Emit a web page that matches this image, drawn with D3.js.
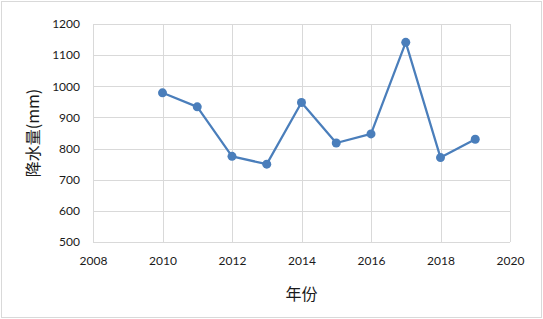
<!DOCTYPE html>
<html>
<head>
<meta charset="utf-8">
<script src="https://cdn.jsdelivr.net/npm/d3@7"></script>
<style>
  body { margin: 0; background: #fff; }
  svg { display: block; }
</style>
</head>
<body>
<svg width="543" height="319"></svg>
<script>
const years = [2010, 2011, 2012, 2013, 2014, 2015, 2016, 2017, 2018, 2019]
const rainfall = [979, 934, 775, 750, 948, 818, 847, 1141, 771, 830]
const xTicks = [2008, 2010, 2012, 2014, 2016, 2018, 2020]
const yTicks = [500, 600, 700, 800, 900, 1000, 1100, 1200]

const svg = d3.select('svg')
const margin = { left: 93, right: 33, top: 24, bottom: 77 }
const w = 543, h = 319

svg.append('rect')
  .attr('x', 1.5).attr('y', 1.5)
  .attr('width', w - 3).attr('height', h - 3)
  .attr('fill', '#fff').attr('stroke', '#d9d9d9')

const x = d3.scaleLinear().domain([2008, 2020]).range([margin.left, w - margin.right])
const y = d3.scaleLinear().domain([500, 1200]).range([h - margin.bottom, margin.top])

// grid
const grid = svg.append('g').attr('stroke', '#d9d9d9').attr('stroke-width', 1)
grid.selectAll('.gy').data(yTicks).join('line')
  .attr('x1', x(2008)).attr('x2', x(2020))
  .attr('y1', d => Math.round(y(d)) + 0.5).attr('y2', d => Math.round(y(d)) + 0.5)
grid.selectAll('.gx').data(xTicks).join('line')
  .attr('x1', d => Math.round(x(d)) + 0.5).attr('x2', d => Math.round(x(d)) + 0.5)
  .attr('y1', y(500)).attr('y2', y(1200))

// axes
const xAxis = svg.append('g')
  .attr('transform', `translate(0,${y(500)})`)
  .call(d3.axisBottom(x).tickValues(xTicks).tickFormat(d3.format('d')).tickSize(0).tickPadding(14))
const yAxis = svg.append('g')
  .attr('transform', `translate(${x(2008)},0)`)
  .call(d3.axisLeft(y).tickValues(yTicks).tickFormat(d3.format('d')).tickSize(0).tickPadding(13))
for (const a of [xAxis, yAxis]) {
  a.select('.domain').remove()
  a.selectAll('text')
    .attr('font-family', 'Lato, "Open Sans", sans-serif')
    .attr('font-size', 12)
    .attr('fill', '#1a1a1a')
}

// axis titles
svg.append('text')
  .attr('x', (x(2008) + x(2020)) / 2).attr('y', 300)
  .attr('text-anchor', 'middle')
  .attr('font-family', '"Noto Sans CJK SC", sans-serif')
  .attr('font-size', 16).attr('fill', '#1a1a1a')
  .text('年份')
svg.append('text')
  .attr('transform', `translate(39,${(y(500) + y(1200)) / 2}) rotate(-90)`)
  .attr('text-anchor', 'middle')
  .attr('font-family', '"Noto Sans CJK SC", sans-serif')
  .attr('font-size', 16).attr('fill', '#1a1a1a')
  .text('降水量(mm)')

// series
const line = d3.line().x((d, i) => x(years[i])).y(d => y(d))
svg.append('path')
  .datum(rainfall)
  .attr('d', line)
  .attr('fill', 'none')
  .attr('stroke', '#4a7ebb')
  .attr('stroke-width', 2.25)
  .attr('stroke-linejoin', 'round')
svg.selectAll('.pt').data(rainfall).join('circle')
  .attr('cx', (d, i) => x(years[i]))
  .attr('cy', d => y(d))
  .attr('r', 4.5)
  .attr('fill', '#4a7ebb')
</script>
</body>
</html>
